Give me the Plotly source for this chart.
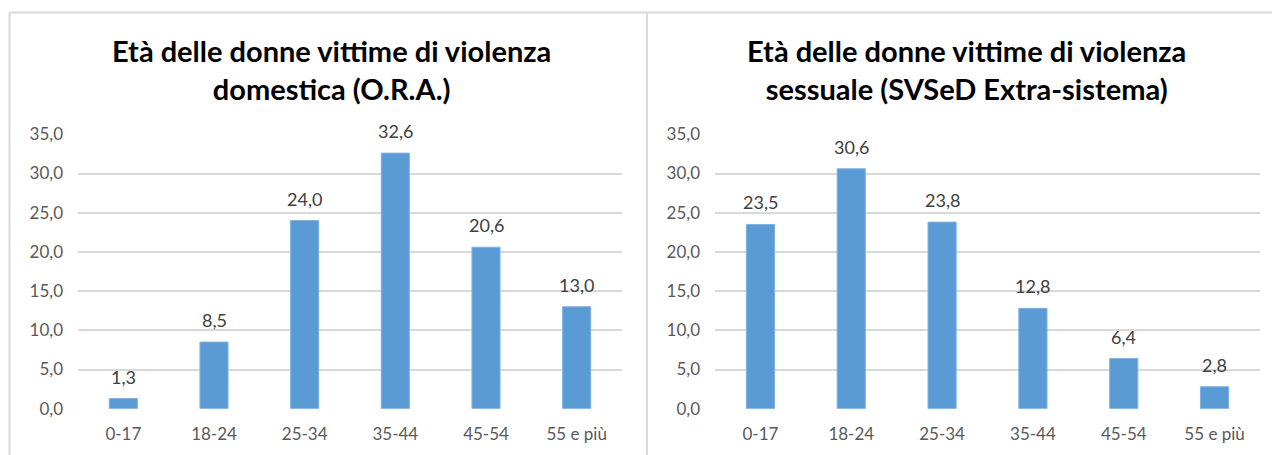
import plotly.graph_objects as go

# Age groups and percentage shares for the two panels
categories = ["0-17", "18-24", "25-34", "35-44", "45-54", "55 e più"]
domestic_violence = [1.3, 8.5, 24.0, 32.6, 20.6, 13.0]
sexual_violence = [23.5, 30.6, 23.8, 12.8, 6.4, 2.8]
y_ticks = [0, 5, 10, 15, 20, 25, 30, 35]

titles = [
    "Età delle donne vittime di violenza<br>domestica (O.R.A.)",
    "Età delle donne vittime di violenza<br>sessuale (SVSeD Extra-sistema)",
]

W, H = 1272, 455
BAR = "#5b9bd5"
GRID = "#d9d9d9"
TXT = "#595959"
FONT = "Lato"

def px_x(v):
    return v / W

def px_y(v):
    return 1 - v / H

fig = go.Figure()

panels = [
    ("x", "y", domestic_violence),
    ("x2", "y2", sexual_violence),
]

for xa, ya, values in panels:
    fig.add_trace(go.Bar(
        x=categories, y=values, xaxis=xa, yaxis=ya,
        marker=dict(color=BAR, line=dict(color="#7fb2e0", width=1)),
        width=0.31, showlegend=False, hoverinfo="x+y",
    ))

annotations = []
for xa, ya, values in panels:
    for c, v in zip(categories, values):
        annotations.append(dict(
            x=c, y=v, xref=xa, yref=ya, text=f"{v:.1f}".replace(".", ","),
            showarrow=False, yanchor="bottom", yshift=9,
            font=dict(family=FONT, size=18, color="#404040"),
        ))

# panel titles
for cx, t in zip([331, 966], titles):
    annotations.append(dict(
        x=px_x(cx), y=px_y(69), xref="paper", yref="paper", text=t,
        showarrow=False, xanchor="center", yanchor="middle",
        font=dict(family=FONT, size=29, color="#000000", weight="bold"),
        align="center",
    ))

y_bottom = px_y(408.7)
y_top = px_y(134.3)

axis_common_y = dict(
    range=[0, 35], tickvals=y_ticks, tickformat=".1f",
    showgrid=True, gridcolor=GRID, gridwidth=1.5,
    zeroline=False, showline=False, ticks="", automargin=False,
    tickfont=dict(family=FONT, size=17, color=TXT),
    ticklabelstandoff=14,
    domain=[y_bottom, y_top], fixedrange=True,
)
axis_common_x = dict(
    showgrid=False, zeroline=False, showline=False, ticks="", automargin=False,
    tickfont=dict(family=FONT, size=17, color=TXT), fixedrange=True,
    ticklabelstandoff=13,
)

fig.update_layout(
    width=W, height=H, margin=dict(l=0, r=0, t=0, b=0, autoexpand=False),
    paper_bgcolor="white", plot_bgcolor="white",
    separators=",.",
    xaxis=dict(domain=[px_x(78), px_x(622)], anchor="y", **axis_common_x),
    yaxis=dict(anchor="x", **axis_common_y),
    xaxis2=dict(domain=[px_x(715), px_x(1260)], anchor="y2", **axis_common_x),
    yaxis2=dict(anchor="x2", **axis_common_y),
    annotations=annotations,
    shapes=[
        # frame around the chart panels
        dict(type="line", xref="paper", yref="paper", x0=px_x(9), x1=1,
             y0=px_y(12.5), y1=px_y(12.5), line=dict(color=GRID, width=2)),
        dict(type="line", xref="paper", yref="paper", x0=px_x(9.5), x1=px_x(9.5),
             y0=0, y1=px_y(12.5), line=dict(color=GRID, width=2)),
        dict(type="line", xref="paper", yref="paper", x0=px_x(647), x1=px_x(647),
             y0=0, y1=px_y(12.5), line=dict(color=GRID, width=2)),
    ],
)

fig.write_html("out.html")
